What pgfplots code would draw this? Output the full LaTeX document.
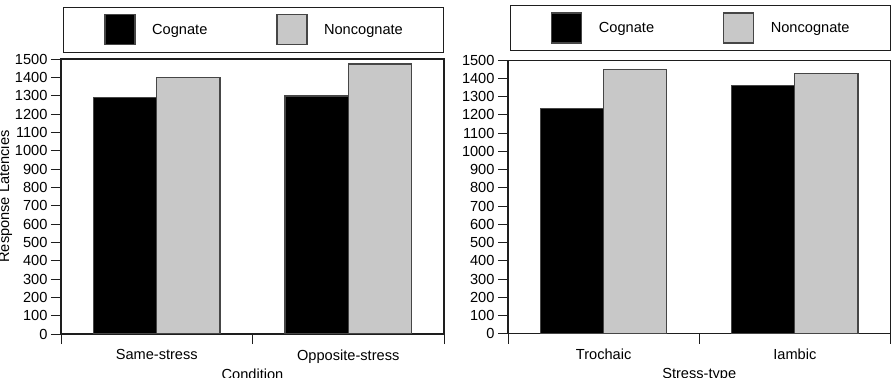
\documentclass[border=0pt]{standalone}
\usepackage{pgfplots}
\pgfplotsset{compat=1.18}
\usepackage{fontspec}
\setmainfont{Liberation Sans}
\definecolor{barg}{RGB}{200,200,200}
\definecolor{edge}{RGB}{70,70,70}
\definecolor{axc}{RGB}{30,30,30}
\pgfplotsset{
  mybars/.style={
    scale only axis, width=383bp, height=275bp,
    anchor=south west,
    ybar=0pt, bar width=0.33,
    xmin=-0.5, xmax=1.5, ymin=0, ymax=1500,
    ytick={0,100,...,1500},
    xtick={-0.5,0.5,1.5}, xticklabels={},
    extra x ticks={0,1},
    extra x tick style={major tick length=0pt},
    tick align=outside, major tick length=10bp,
    xtick pos=bottom, ytick pos=left,
    tick style={axc, line width=0.8bp},
    axis line style={axc, line width=1.1bp},
    font=\fontsize{14.6bp}{17bp}\selectfont,
    tick label style={font=\fontsize{14.6bp}{17bp}\selectfont},
    label style={font=\fontsize{14.6bp}{17bp}\selectfont},
    /pgf/number format/assume math mode=true,
    /pgf/number format/1000 sep={},
    xticklabel shift=12bp,
    xlabel style={at={(axis description cs:0.5,0)}, anchor=north, yshift=-31bp},
    ylabel shift=-4bp,
    legend columns=2,
    legend style={draw=axc, line width=1.1bp, at={(0.503,1)}, anchor=south, yshift=6bp,
      inner xsep=41bp, inner ysep=7bp,
      font=\fontsize{14.6bp}{17bp}\selectfont,
      nodes={inner sep=0pt},
      /tikz/every odd column/.append style={column sep=16.5bp},
      /tikz/every even column/.append style={column sep=69bp}},
    every axis plot/.append style={line width=1.2bp, draw=edge,
      legend image code/.code={\draw[##1] (0bp,-15bp) rectangle (30bp,15bp);}},
  }
}
\begin{document}
\begin{tikzpicture}
\path[use as bounding box] (0,0) rectangle (893bp,378bp);
\clip (0,0) rectangle (893bp,378bp);
\begin{axis}[mybars, at={(61bp,44bp)},
  extra x tick labels={Same-stress,Opposite-stress},
  xlabel={Condition}, ylabel={Response Latencies}]
\addplot[fill=black] coordinates {(0,1289) (1,1298)};
\addplot[fill=barg] coordinates {(0,1400) (1,1473)};
\legend{Cognate,Noncognate}
\end{axis}
\begin{axis}[mybars, at={(508bp,44.3bp)}, width=382.5bp, height=273.5bp,
  legend style={yshift=3bp},
  extra x tick labels={Trochaic,Iambic},
  xlabel={Stress-type}]
\addplot[fill=black] coordinates {(0,1235) (1,1361)};
\addplot[fill=barg] coordinates {(0,1449) (1,1429)};
\legend{Cognate,Noncognate}
\end{axis}
\end{tikzpicture}
\end{document}
